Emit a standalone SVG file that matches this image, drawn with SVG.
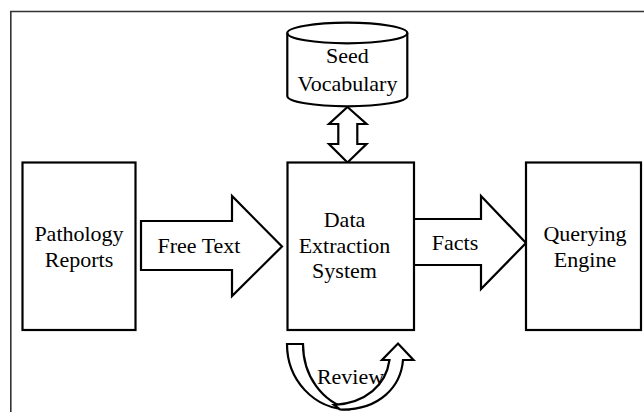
<svg xmlns="http://www.w3.org/2000/svg" width="644" height="412" viewBox="0 0 644 412">
<style>
.box{fill:#fff;stroke:#000;stroke-width:2.2}
.arr{fill:#fff;stroke:#000;stroke-width:2.2;stroke-linejoin:miter}
.frame{fill:none;stroke:#333;stroke-width:1.6}
text{font-family:"Liberation Serif","Times New Roman",serif;font-size:22px;fill:#000;text-anchor:middle}
</style>
<rect width="644" height="412" fill="#fff"/>
<path class="frame" d="M10.8,412 V11.5 H644"/>
<g id="connectors">
<path id="free-text-arrow" class="arr" d="M141,221 H232 V196 L282,246.5 L232,296 V270 H141 Z"/>
<path id="facts-arrow" class="arr" d="M406,219 H481 V196 L526,243 L481,289 V265 H406 Z"/>
<path id="vocab-arrow" class="arr" d="M347.5,107 L366.5,124 H357.3 V144 H366.5 L347.5,162.5 L329,144 H338.3 V124 H329 Z"/>
<g id="review-arrow">
<path class="arr" d="M287,344 H303 C303,376 322,402 350,409.5 C313,409.5 287,379 287,344 Z"/>
<path class="arr" d="M340,409.5 C380,410.5 401,386 403,360 H413.5 L398,343.5 L382,360 H389.5 C386,385 366,403 334,405 Z"/>
</g>
</g>
<g id="node-pathology">
<rect class="box" x="22.5" y="162.5" width="113" height="167.5"/>
<text x="79" y="240.5">Pathology</text>
<text x="79" y="267">Reports</text>
</g>
<g id="label-free-text"><text x="199" y="253">Free Text</text></g>
<g id="node-data-extraction">
<rect class="box" x="287.5" y="162.5" width="126.5" height="167.5"/>
<text x="344.5" y="226.5">Data</text>
<text x="344.5" y="252.5">Extraction</text>
<text x="344.5" y="278">System</text>
</g>
<g id="label-facts"><text x="455" y="250">Facts</text></g>
<g id="node-querying">
<rect class="box" x="526" y="162.5" width="115" height="167.5"/>
<text x="585" y="240.5">Querying</text>
<text x="585" y="267">Engine</text>
</g>
<g id="node-seed-vocabulary">
<path class="box" d="M287.3,33 A60,10.3 0 0 1 407.3,33 V96 A60,10.3 0 0 1 287.3,96 Z"/>
<path fill="none" stroke="#000" stroke-width="2.2" d="M287.3,33 A60,10.3 0 0 0 407.3,33"/>
<text x="347.5" y="63">Seed</text>
<text x="347.5" y="90.5">Vocabulary</text>
</g>
<g id="label-review"><text x="350.5" y="383.5">Review</text></g>
</svg>
